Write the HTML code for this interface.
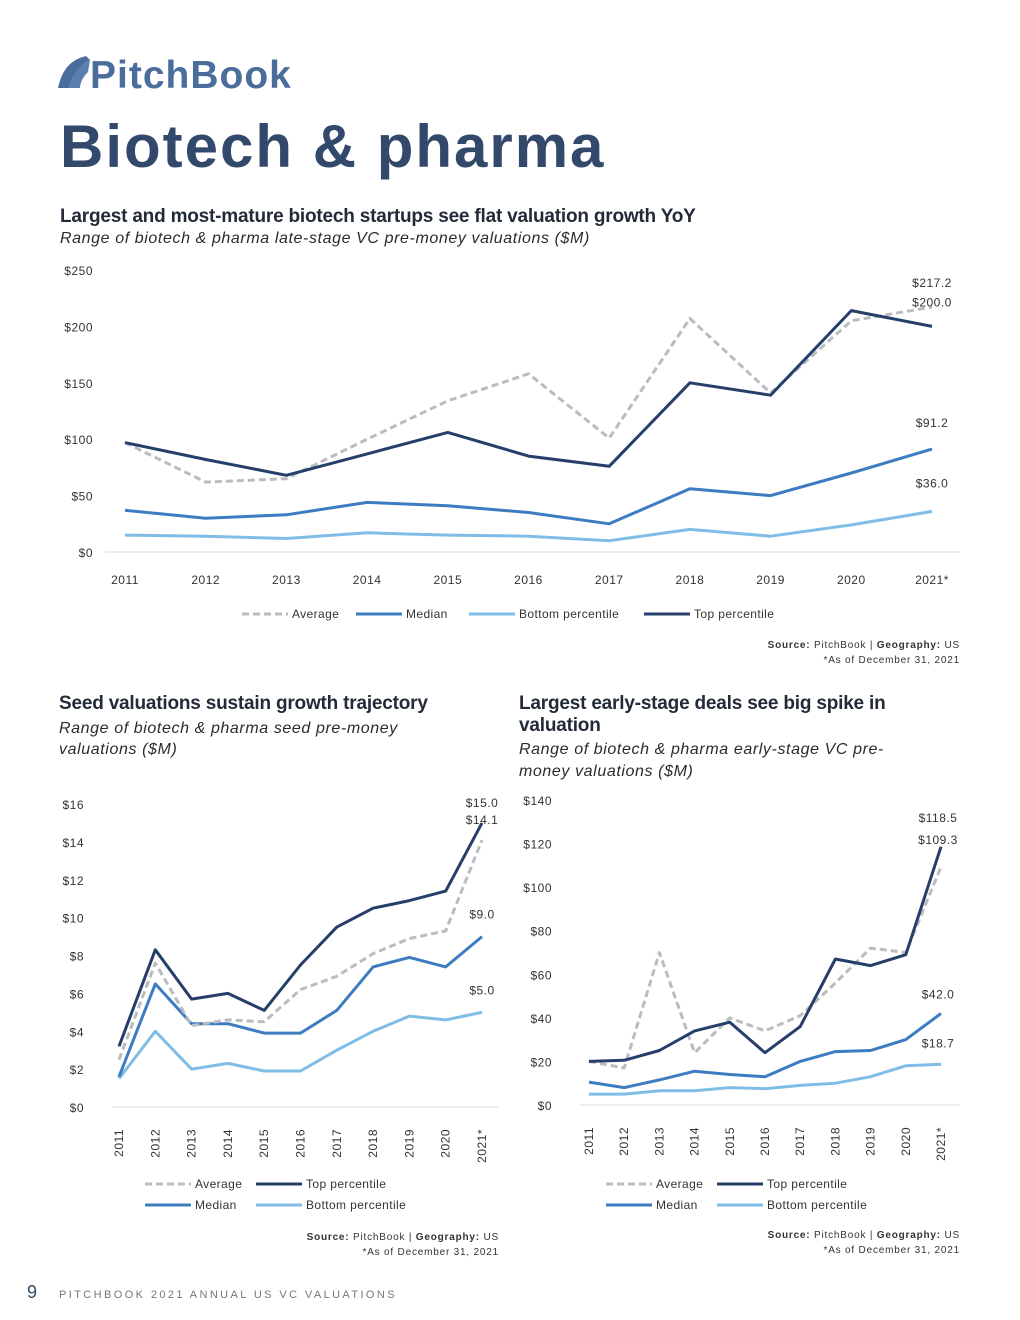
<!DOCTYPE html>
<html><head><meta charset="utf-8">
<style>
body{margin:0;width:1020px;height:1320px;background:#fff;font-family:"Liberation Sans",sans-serif;position:relative;overflow:hidden}
.a{position:absolute;white-space:nowrap}
.t{color:#232b38;font-weight:bold;font-size:19px;letter-spacing:-0.2px}
.s{color:#2b2b2b;font-style:italic;font-size:16px;letter-spacing:0.6px}
.src{font-size:10px;color:#333;letter-spacing:0.8px;text-align:right}
svg text{font-family:"Liberation Sans",sans-serif}
</style></head><body>
<div class="a" style="left:56px;top:52px;">
<svg width="250" height="42"><path d="M2 36 C6 18 14 8 30 4 L34 8 C22 14 16 24 14 36 Z" fill="#4a6d9c"/><path d="M12 36 C16 24 22 14 34 8 L32 20 C26 26 24 32 24 36Z" fill="#5b7fae"/><text x="34" y="36" font-size="39" font-weight="bold" fill="#4a6d9c" letter-spacing="1">PitchBook</text></svg>
</div>
<div class="a" style="left:60px;top:112px;font-size:60px;color:#33496b;font-weight:bold;letter-spacing:2px">Biotech &amp; pharma</div>
<div class="a t" style="left:60px;top:206px">Largest and most-mature biotech startups see flat valuation growth YoY</div>
<div class="a s" style="left:60px;top:230px">Range of biotech &amp; pharma late-stage VC pre-money valuations ($M)</div>
<div class="a src" style="right:60px;top:638px;line-height:15px"><b>Source:</b> PitchBook | <b>Geography:</b> US<br>*As of December 31, 2021</div>

<div class="a t" style="left:59px;top:693px">Seed valuations sustain growth trajectory</div>
<div class="a s" style="left:59px;top:718px;line-height:21px">Range of biotech &amp; pharma seed pre-money<br>valuations ($M)</div>
<div class="a src" style="right:521px;top:1230px;line-height:15px"><b>Source:</b> PitchBook | <b>Geography:</b> US<br>*As of December 31, 2021</div>

<div class="a t" style="left:519px;top:693px;line-height:22px">Largest early-stage deals see big spike in<br>valuation</div>
<div class="a s" style="left:519px;top:739px;line-height:22px">Range of biotech &amp; pharma early-stage VC pre-<br>money valuations ($M)</div>
<div class="a src" style="right:60px;top:1228px;line-height:15px"><b>Source:</b> PitchBook | <b>Geography:</b> US<br>*As of December 31, 2021</div>

<div class="a" style="left:27px;top:1282px;font-size:18px;color:#33496b">9</div>
<div class="a" style="left:59px;top:1289px;font-size:11px;color:#777;letter-spacing:2.4px">PITCHBOOK 2021 ANNUAL US VC VALUATIONS</div>

<svg id="svg" width="1020" height="1320" style="position:absolute;left:0;top:0"></svg>
<script>
const years=["2011","2012","2013","2014","2015","2016","2017","2018","2019","2020","2021*"];
const lateAvg=[97,62,65,100,134,158,101,207,141,205,217.2];
const lateTop=[97,82,68,87,106,85,76,150,139,214,200];
const lateMed=[37,30,33,44,41,35,25,56,50,70,91.2];
const lateBot=[15,14,12,17,15,14,10,20,14,24,36];
const lateTicks=[0,50,100,150,200,250];
const seedAvg=[2.5,7.6,4.3,4.6,4.5,6.2,6.9,8.1,8.9,9.3,14.1];
const seedTop=[3.2,8.3,5.7,6.0,5.1,7.5,9.5,10.5,10.9,11.4,15.0];
const seedMed=[1.6,6.5,4.4,4.4,3.9,3.9,5.1,7.4,7.9,7.4,9.0];
const seedBot=[1.5,4.0,2.0,2.3,1.9,1.9,3.0,4.0,4.8,4.6,5.0];
const seedTicks=[0,2,4,6,8,10,12,14,16];
const earlyAvg=[20,17,70,24,40,34,41,56,72,70,109.3];
const earlyTop=[20,20.5,25,34,38,24,36,67,64,69,118.5];
const earlyMed=[10.5,8,11.5,15.5,14,13,20,24.5,25,30,42];
const earlyBot=[5,5,6.5,6.5,8,7.5,9,10,13,18,18.7];
const earlyTicks=[0,20,40,60,80,100,120,140];

const NS="http://www.w3.org/2000/svg";
const svg=document.getElementById('svg');
const C={avg:"#b9bcc1",top:"#263f6a",med:"#3d7cc0",bot:"#80bde6"};
function el(t,a,txt){const e=document.createElementNS(NS,t);for(const k in a)e.setAttribute(k,a[k]);if(txt!=null)e.textContent=txt;svg.appendChild(e);return e;}

function chart(cfg){
  const {id,x0,x1,y0,y1,max,ticks,gx0,gx1,tickX,rot,series,labels}=cfg;
  const xs=i=>x0+(x1-x0)*i/(years.length-1);
  const ys=v=>y0-(y0-y1)*v/max;
  let g=el('line',{x1:gx0,x2:gx1,y1:y0,y2:y0,stroke:'#d9d9d9','stroke-width':1});
  
  
  ticks.forEach(t=>{
    const e=el('text',{x:tickX,y:ys(t)+5,'font-size':12,fill:'#333','text-anchor':'end','letter-spacing':0.5},'$'+t);
    
    
  });
  years.forEach((yr,i)=>{
    let e;
    if(rot){e=el('text',{x:0,y:0,'font-size':12,fill:'#333','text-anchor':'end','letter-spacing':0.5,transform:`translate(${xs(i)+4},${y0+22}) rotate(-90)`},yr);}
    else{e=el('text',{x:xs(i),y:y0+32,'font-size':12,fill:'#333','text-anchor':'middle','letter-spacing':0.5},yr);}
    
    
  });
  series.forEach(s=>{
    const pts=s.d.map((v,i)=>xs(i).toFixed(1)+','+ys(v).toFixed(1)).join(' ');
    const a={points:pts,fill:'none',stroke:C[s.k],'stroke-width':3,'stroke-linejoin':'round'};
    if(s.k==='avg')a['stroke-dasharray']='7,4';
    const p=el('polyline',a);
    
    
  });
  labels.forEach(l=>{
    const v=l.d[l.d.length-1];
    const e=el('text',{x:xs(10)+l.dx,y:ys(v)+l.dy,'font-size':12,fill:'#333','text-anchor':'middle','letter-spacing':0.5},'$'+v.toFixed(1));
    
    
  });
}
chart({id:'late',x0:125,x1:932,y0:552,y1:270,max:250,ticks:lateTicks,gx0:105,gx1:960,tickX:93,rot:false,
 series:[{k:'bot',d:lateBot,n:'bottom'},{k:'med',d:lateMed,n:'median'},{k:'avg',d:lateAvg,n:'average'},{k:'top',d:lateTop,n:'top'}],
 labels:[{d:lateAvg,dx:0,dy:-20},{d:lateTop,dx:0,dy:-20},{d:lateMed,dx:0,dy:-22},{d:lateBot,dx:0,dy:-24}]});
chart({id:'seed',x0:119,x1:482,y0:1107,y1:804,max:16,ticks:seedTicks,gx0:112,gx1:498,tickX:84,rot:true,
 series:[{k:'bot',d:seedBot,n:'bottom'},{k:'med',d:seedMed,n:'median'},{k:'avg',d:seedAvg,n:'average'},{k:'top',d:seedTop,n:'top'}],
 labels:[{d:seedTop,dx:0,dy:-16},{d:seedAvg,dx:0,dy:-16},{d:seedMed,dx:0,dy:-18},{d:seedBot,dx:0,dy:-18}]});
chart({id:'early',x0:589,x1:941,y0:1105,y1:800,max:140,ticks:earlyTicks,gx0:580,gx1:960,tickX:552,rot:true,
 series:[{k:'bot',d:earlyBot,n:'bottom'},{k:'med',d:earlyMed,n:'median'},{k:'avg',d:earlyAvg,n:'average'},{k:'top',d:earlyTop,n:'top'}],
 labels:[{d:earlyTop,dx:-3,dy:-25},{d:earlyAvg,dx:-3,dy:-23},{d:earlyMed,dx:-3,dy:-15},{d:earlyBot,dx:-3,dy:-17}]});

function legend(x,y,k,label,id){
  const a={x1:x,x2:x+46,y1:y,y2:y,stroke:C[k],'stroke-width':3};
  if(k==='avg')a['stroke-dasharray']='7,4';
  const l=el('line',a);
  
  
  const t=el('text',{x:x+50,y:y+4,'font-size':12,fill:'#333','letter-spacing':0.4},label);
  
  
}
legend(242,614,'avg','Average','late');legend(356,614,'med','Median','late');
legend(469,614,'bot','Bottom percentile','late');legend(644,614,'top','Top percentile','late');
legend(145,1184,'avg','Average','seed');legend(256,1184,'top','Top percentile','seed');
legend(145,1205,'med','Median','seed');legend(256,1205,'bot','Bottom percentile','seed');
legend(606,1184,'avg','Average','early');legend(717,1184,'top','Top percentile','early');
legend(606,1205,'med','Median','early');legend(717,1205,'bot','Bottom percentile','early');
</script>
</body></html>
